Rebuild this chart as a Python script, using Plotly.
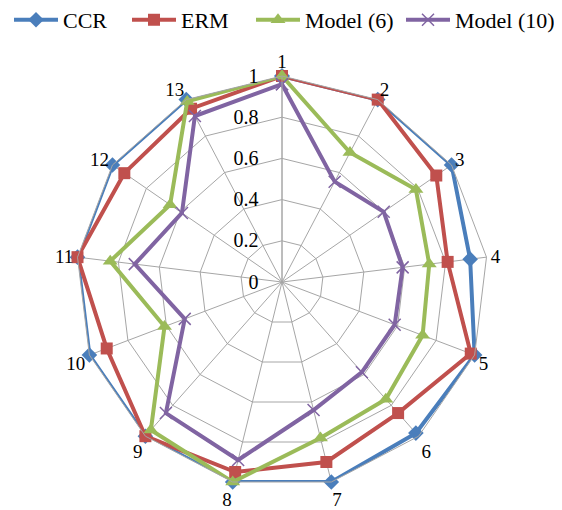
import plotly.graph_objects as go

categories = [str(i) for i in range(1, 14)]
ccr = [1.0, 1.0, 1.0, 0.92, 1.0, 0.98, 1.0, 1.0, 1.0, 1.0, 1.0, 1.0, 1.0]
erm = [1.0, 1.0, 0.91, 0.81, 0.98, 0.85, 0.90, 0.95, 1.0, 0.91, 1.0, 0.93, 0.95]
model6 = [1.0, 0.71, 0.79, 0.72, 0.73, 0.76, 0.78, 1.0, 0.96, 0.61, 0.84, 0.66, 0.99]
model10 = [0.96, 0.55, 0.60, 0.59, 0.585, 0.585, 0.64, 0.89, 0.85, 0.505, 0.72, 0.59, 0.91]

W, H = 554, 502  # page body has an 8px margin inside the 562x510 window

series = [
    ("CCR", ccr, "#4A7EBB", dict(symbol="diamond", size=12), "legend", 1),
    ("ERM", erm, "#C0504D", dict(symbol="square", size=12), "legend2", 119),
    ("Model (6)", model6, "#9BBB59", dict(symbol="triangle-up", size=13), "legend3", 243),
    ("Model (10)", model10, "#8064A2", dict(symbol="x-thin", size=12), "legend4", 393),
]

fig = go.Figure()
legends = {}
for name, vals, color, mk, lg, lx in series:
    r = list(vals) + [vals[0]]
    theta = categories + [categories[0]]
    marker = dict(color=color, **mk)
    if mk["symbol"] == "x-thin":
        marker["line"] = dict(color=color, width=1.5)
    fig.add_trace(go.Scatterpolar(
        r=r, theta=theta, name=name, mode="lines+markers",
        line=dict(color=color, width=4), marker=marker, legend=lg,
    ))
    legends[lg] = dict(orientation="h", x=lx / W, y=1.018, xanchor="left",
                       yanchor="top", font=dict(size=22), itemwidth=44,
                       entrywidth=110, entrywidthmode="pixels",
                       bgcolor="rgba(0,0,0,0)")

grid = "#a6a6a6"
fig.update_layout(
    width=W, height=H,
    margin=dict(l=0, r=0, t=0, b=0, autoexpand=False),
    paper_bgcolor="white",
    font=dict(family="Liberation Serif", size=20, color="black"),
    showlegend=True,
    polar=dict(
        domain=dict(x=[68 / W, 480 / W], y=[22 / H, 434 / H]),
        bgcolor="white",
        gridshape="linear",
        angularaxis=dict(direction="clockwise", rotation=90, type="category",
                         showline=True, linecolor=grid, linewidth=1,
                         gridcolor=grid, gridwidth=1, ticks="",
                         tickfont=dict(size=19)),
        radialaxis=dict(range=[0, 1], dtick=0.2, angle=90, tickangle=90,
                        side="counterclockwise", showline=True, linecolor=grid,
                        gridcolor=grid, gridwidth=1, ticks="outside", ticklen=16,
                        tickcolor="rgba(0,0,0,0)"),
    ),
    **legends,
)
fig.write_html("out.html")
